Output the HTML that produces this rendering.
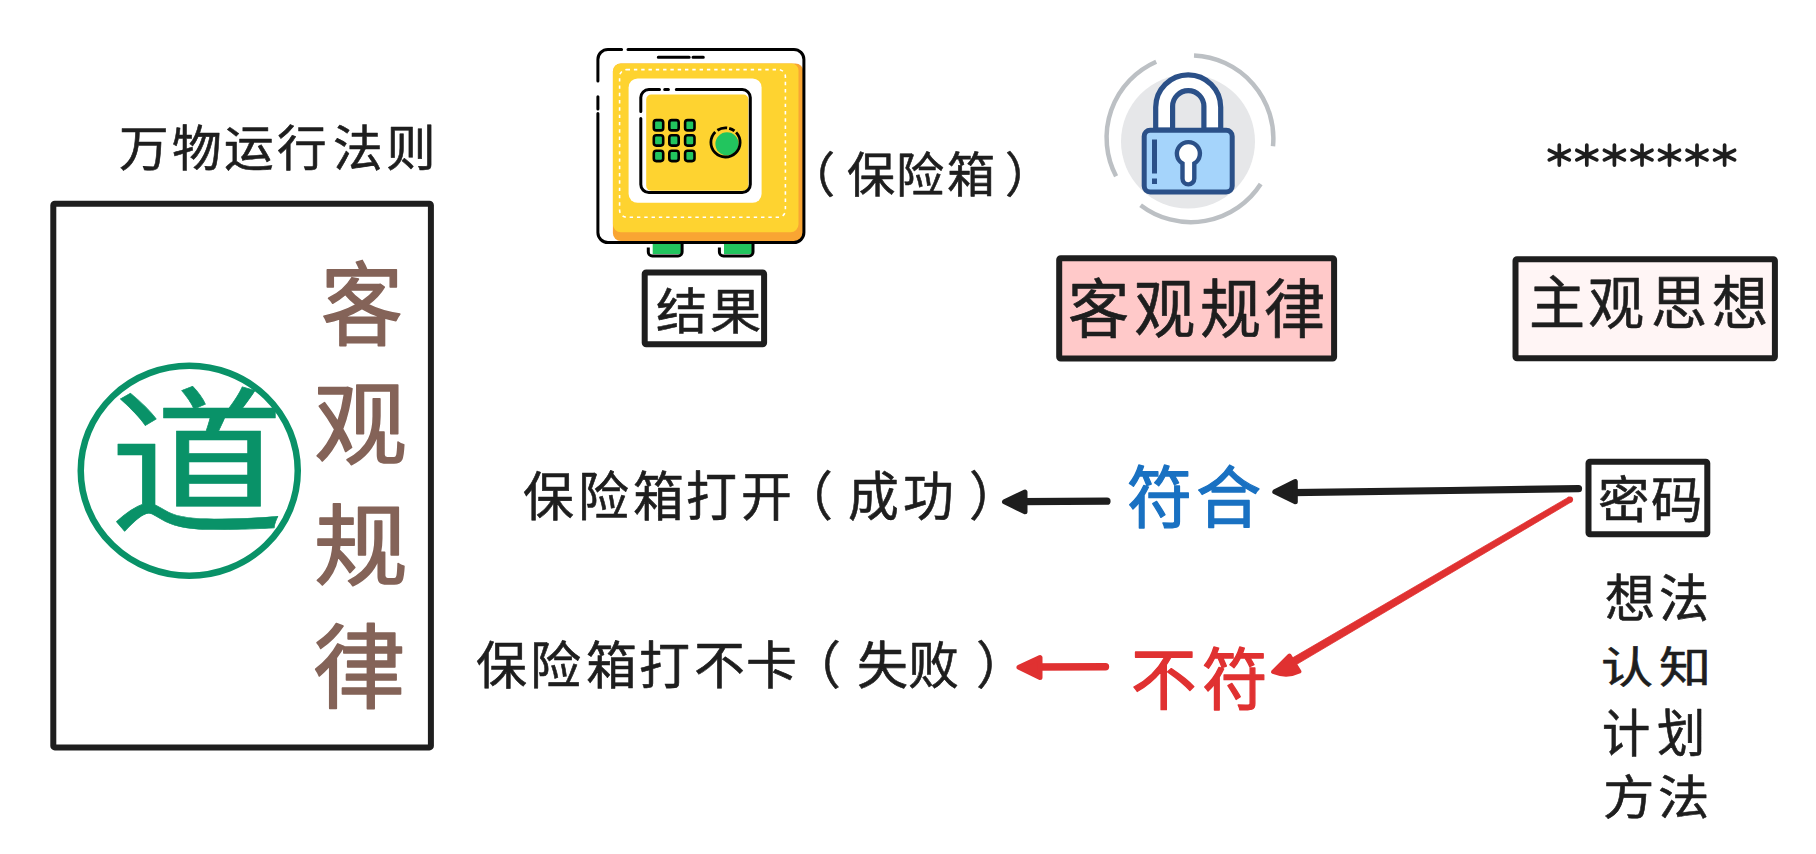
<!DOCTYPE html>
<html lang="zh-CN">
<head>
<meta charset="utf-8">
<title>保险箱 客观规律</title>
<style>
html,body{margin:0;padding:0;background:#ffffff;}
body{width:1816px;height:854px;overflow:hidden;position:relative;font-family:"Liberation Sans",sans-serif;}
svg{position:absolute;left:0;top:0;}
svg text{font-family:"Liberation Sans",sans-serif;}
</style>
</head>
<body>
<svg width="1816" height="854" viewBox="0 0 1816 854">
<rect x="53.3" y="203.8" width="377.6" height="543.6" rx="1.5" fill="#fff" stroke="#1e1e1e" stroke-width="6"/>
<ellipse cx="189.25" cy="470.75" rx="108.5" ry="105" fill="none" stroke="#099268" stroke-width="6.5"/>
<rect x="644.7" y="272.5" width="119.4" height="71.8" rx="1.5" fill="#fff" stroke="#1e1e1e" stroke-width="6"/>
<rect x="1059.2" y="258.2" width="274.9" height="100.3" rx="1.5" fill="#ffc9c9" stroke="#1e1e1e" stroke-width="6"/>
<rect x="1515.5" y="259.2" width="259.4" height="99.1" rx="1.5" fill="#fff5f5" stroke="#1e1e1e" stroke-width="6"/>
<rect x="1588.5" y="461.8" width="118.8" height="72.5" rx="1.5" fill="#fff" stroke="#1e1e1e" stroke-width="6"/>
<g id="safe">
<rect x="612.9" y="63.5" width="190.5" height="177.5" rx="8" fill="#f9a533"/>
<path d="M620.9 63.5H791.5a7 7 0 0 1 7 7V224.3a8 8 0 0 1 -8 8H620.9a8 8 0 0 1 -8 -8V71.5a8 8 0 0 1 8 -8z" fill="#fed330"/>
<rect x="619.6" y="69.6" width="165.8" height="147.6" rx="7" fill="none" stroke="#fff" stroke-width="1.6" stroke-dasharray="3.4 3.9"/>
<rect x="628.6" y="78.4" width="133" height="124.4" rx="9" fill="#fff"/>
<rect x="646.2" y="94.6" width="102.2" height="96.1" rx="5" fill="#fed330"/>
<g fill="none" stroke="#000" stroke-width="3" stroke-linecap="round">
<path d="M597.9 81.1V59.5a10 10 0 0 1 10 -10H621.6"/>
<path d="M628 49.5H793.9a10 10 0 0 1 10 10V232.5a10 10 0 0 1 -10 10H607.9a10 10 0 0 1 -10 -10V113.4"/>
<path d="M597.9 96.7V109"/>
<path d="M658.3 57.3H689.2M693 57.3H703.3"/>
<path d="M640.8 111.5V97.6a8 8 0 0 1 8 -8H659.5M664.7 89.6H668.4M676.3 89.6H742.3a8 8 0 0 1 8 8V184.5a8 8 0 0 1 -8 8H648.8a8 8 0 0 1 -8 -8V118.6"/>
</g>
<g fill="#22c55e" stroke="#000" stroke-width="2.6">
<rect x="653.8" y="120.1" width="9.4" height="10.3" rx="2.5"/>
<rect x="669.3" y="120.1" width="9.4" height="10.3" rx="2.5"/>
<rect x="685.1" y="120.1" width="9.4" height="10.3" rx="2.5"/>
<rect x="653.8" y="135.3" width="9.4" height="10.3" rx="2.5"/>
<rect x="669.3" y="135.3" width="9.4" height="10.3" rx="2.5"/>
<rect x="685.1" y="135.3" width="9.4" height="10.3" rx="2.5"/>
<rect x="653.8" y="150.8" width="9.4" height="10.3" rx="2.5"/>
<rect x="669.3" y="150.8" width="9.4" height="10.3" rx="2.5"/>
<rect x="685.1" y="150.8" width="9.4" height="10.3" rx="2.5"/>
</g>
<circle cx="727" cy="143.9" r="11.6" fill="#22c55e"/>
<path d="M715.28 131.97A14.6 14.6 0 1 0 736.09 132.35M734.45 130.86A14.6 14.6 0 0 0 729.16 128.27M727.13 127.89A14.6 14.6 0 0 0 717.38 130.27" fill="none" stroke="#000" stroke-width="2.8"/>
<path d="M652.7 243.9H681V253.9H652.7z M724 243.9H752V253.9H724z" fill="#22c55e"/>
<path d="M648.3 247.5V251.9a4 4 0 0 0 4 4H678.1a4 4 0 0 0 4 -4V243.5M719.4 247.5V251.9a4 4 0 0 0 4 4H749a4 4 0 0 0 4 -4V243.5" fill="none" stroke="#000" stroke-width="3"/>
</g>
<g id="lock">
<circle cx="1188" cy="141.5" r="67" fill="#e6e7e9"/>
<g fill="none" stroke="#bcc0c4" stroke-width="4.5">
<path d="M1156.2 61.7A83 83 0 0 0 1116.1 176.3"/>
<path d="M1194 55.5A83 83 0 0 1 1273 146.2"/>
<path d="M1260.7 184A83 83 0 0 1 1140.6 205.2"/>
</g>
<path d="M1155.7 130V107.3a32.5 32.5 0 0 1 65 0V130H1203.9V106.35a15.65 15.65 0 0 0 -31.3 0V130z" fill="#fff" stroke="#2b5088" stroke-width="5.2" stroke-linejoin="round"/>
<rect x="1144.2" y="130.2" width="88" height="61.8" rx="6" fill="#a5d4fb" stroke="#2b5088" stroke-width="5"/>
<path d="M1182.5 163.5A11.5 11.5 0 1 1 1194.3 163.5V178.5a5.9 5.9 0 0 1 -11.8 0z" fill="#fff" stroke="#2b5088" stroke-width="4.4"/>
<rect x="1152" y="139.5" width="5" height="34" fill="#2b5088"/>
<rect x="1152" y="178.5" width="5" height="5.5" fill="#2b5088"/>
</g>
<g stroke-linecap="round" stroke-linejoin="round">
<path d="M1107 501.2L1022 501.6" stroke="#1e1e1e" stroke-width="7.2"/>
<path d="M1004.5 501.8L1025 492V511.8z" fill="#1e1e1e" stroke="#1e1e1e" stroke-width="5"/>
<path d="M1578.5 488.6L1450 490.5L1292 492.6" stroke="#1e1e1e" stroke-width="7.2" fill="none"/>
<path d="M1274.8 491.8L1295.3 481.5V501.8z" fill="#1e1e1e" stroke="#1e1e1e" stroke-width="5"/>
<path d="M1571.40 501.87L1284.98 671.29L1281.02 664.57L1568.60 497.13z" fill="#e03131" stroke="#e03131" stroke-width="0.8"/>
<circle cx="1570" cy="499.5" r="3.1" fill="#e03131"/>
<path d="M1273 672L1289.5 655.5L1299.5 671.5Q1287 677.5 1273 672z" fill="#e03131" stroke="#e03131" stroke-width="4"/>
<path d="M1105.5 666.7L1036 667" stroke="#e03131" stroke-width="7.4"/>
<path d="M1019 667.2L1040 657.5V677.5z" fill="#e03131" stroke="#e03131" stroke-width="5"/>
</g>
<g stroke="#1e1e1e" stroke-width="3.7" stroke-linecap="round" fill="none"><path d="M1559.3 145.1V165.1M1549.3 150.3L1569.3 159.9M1549.3 159.9L1569.3 150.3"/><path d="M1586.8 145.1V165.1M1576.8 150.3L1596.8 159.9M1576.8 159.9L1596.8 150.3"/><path d="M1614.4 145.1V165.1M1604.4 150.3L1624.4 159.9M1604.4 159.9L1624.4 150.3"/><path d="M1642.0 145.1V165.1M1632.0 150.3L1652.0 159.9M1632.0 159.9L1652.0 150.3"/><path d="M1669.5 145.1V165.1M1659.5 150.3L1679.5 159.9M1659.5 159.9L1679.5 150.3"/><path d="M1697.0 145.1V165.1M1687.0 150.3L1707.0 159.9M1687.0 159.9L1707.0 150.3"/><path d="M1724.6 145.1V165.1M1714.6 150.3L1734.6 159.9M1714.6 159.9L1734.6 150.3"/></g>
<text id="t1" transform="matrix(0.9930 0 0 0.9688 1.05 5.34)" x="119.2 171.7 224.2 277.7 334.5 387.5" y="166.2" font-size="50" font-weight="400" fill="#1e1e1e" stroke="#1e1e1e" stroke-width="0.6" stroke-linejoin="round">万物运行法则</text>
<text id="t2" transform="matrix(1.0015 0 0 1.0043 -1.23 -2.27)" x="786.9 846.6 896.2 946.8 1004.6" y="193.7" font-size="48" font-weight="400" fill="#1e1e1e" stroke="#1e1e1e" stroke-width="0.6" stroke-linejoin="round">（保险箱）</text>
<text id="t3" transform="matrix(1.0240 0 0 0.9854 -15.04 4.87)" x="655.2 707.6" y="328.9" font-size="50" font-weight="400" fill="#1e1e1e" stroke="#1e1e1e" stroke-width="0.6" stroke-linejoin="round">结果</text>
<text id="t4" transform="matrix(1.0194 0 0 1.0534 -20.61 -15.66)" x="1067.7 1133.1 1197.1 1260.4" y="330.2" font-size="60" font-weight="400" fill="#1e1e1e" stroke="#1e1e1e" stroke-width="0.6" stroke-linejoin="round">客观规律</text>
<text id="t5" transform="matrix(1.0009 0 0 1.0288 -1.42 -8.66)" x="1529.1 1588.0 1651.3 1712.3" y="323.3" font-size="56" font-weight="400" fill="#1e1e1e" stroke="#1e1e1e" stroke-width="0.6" stroke-linejoin="round">主观思想</text>
<text id="t6" transform="matrix(0.9978 0 0 1.0388 1.93 -19.20)" x="522.3 577.2 632.6 685.6 740.8 782.1 847.5 903.4 969.0" y="515.7" font-size="51" font-weight="400" fill="#1e1e1e" stroke="#1e1e1e" stroke-width="0.6" stroke-linejoin="round">保险箱打开（成功）</text>
<text id="t7" transform="matrix(0.9990 0 0 1.0020 0.86 -1.41)" x="475.9 529.8 585.5 639.0 693.5 745.5 790.1 857.5 908.0 976.1" y="683.7" font-size="51" font-weight="400" fill="#1e1e1e" stroke="#1e1e1e" stroke-width="0.6" stroke-linejoin="round">保险箱打不卡（失败）</text>
<text id="t8" transform="matrix(1.0008 0 0 1.0279 -0.37 -14.21)" x="1126.9 1195.9" y="522.0" font-size="65" font-weight="400" fill="#1971c2" stroke="#1971c2" stroke-width="1.3" stroke-linejoin="round">符合</text>
<text id="t9" transform="matrix(0.9932 0 0 1.0242 8.56 -15.13)" x="1129.7 1201.8" y="702.2" font-size="66" font-weight="400" fill="#e03131" stroke="#e03131" stroke-width="1.3" stroke-linejoin="round">不符</text>
<text id="t10" transform="matrix(1.0292 0 0 1.0021 -47.00 -0.69)" x="1598.7 1649.8" y="517.9" font-size="50" font-weight="400" fill="#1e1e1e" stroke="#1e1e1e" stroke-width="0.6" stroke-linejoin="round">密码</text>
<text id="t11a" transform="matrix(1.0000 0 0 1.0146 1.00 -9.37)" x="1604.3 1658.5" y="617.3" font-size="50" font-weight="400" fill="#1e1e1e" stroke="#1e1e1e" stroke-width="0.6" stroke-linejoin="round">想法</text>
<text id="t11b" transform="matrix(1.0430 0 0 0.8667 -68.29 88.27)" x="1600.1 1656.0" y="686.6" font-size="50" font-weight="400" fill="#1e1e1e" stroke="#1e1e1e" stroke-width="0.6" stroke-linejoin="round">认知</text>
<text id="t11c" transform="matrix(0.9653 0 0 1.0146 55.68 -9.21)" x="1602.0 1659.0" y="750.4" font-size="50" font-weight="400" fill="#1e1e1e" stroke="#1e1e1e" stroke-width="0.6" stroke-linejoin="round">计划</text>
<text id="t11d" transform="matrix(1.0273 0 0 0.9271 -45.53 59.32)" x="1604.5 1658.5" y="814.0" font-size="50" font-weight="400" fill="#1e1e1e" stroke="#1e1e1e" stroke-width="0.6" stroke-linejoin="round">方法</text>
<text id="t12a" transform="matrix(0.8976 0 0 1.0012 40.04 0.10)" x="312.9" y="337.0" font-size="91" font-weight="400" fill="#846358" stroke="#846358" stroke-width="1.6" stroke-linejoin="round">客</text>
<text id="t12b" transform="matrix(1.0198 0 0 0.9963 -5.55 0.93)" x="312.9" y="457.6" font-size="91" font-weight="400" fill="#846358" stroke="#846358" stroke-width="1.6" stroke-linejoin="round">观</text>
<text id="t12c" transform="matrix(1.0306 0 0 0.9702 -8.77 15.70)" x="312.9" y="580.0" font-size="91" font-weight="400" fill="#846358" stroke="#846358" stroke-width="1.6" stroke-linejoin="round">规</text>
<text id="t12d" transform="matrix(1.0128 0 0 1.0082 -3.53 -5.84)" x="312.8" y="700.7" font-size="91" font-weight="400" fill="#846358" stroke="#846358" stroke-width="1.6" stroke-linejoin="round">律</text>
<text id="t13" transform="matrix(1.1181 0 0 1.0035 -14.93 -1.84)" x="110.7" y="520.0" font-size="157" font-weight="400" fill="#099268" stroke="#099268" stroke-width="0.6" stroke-linejoin="round">道</text>
</svg>
</body>
</html>
